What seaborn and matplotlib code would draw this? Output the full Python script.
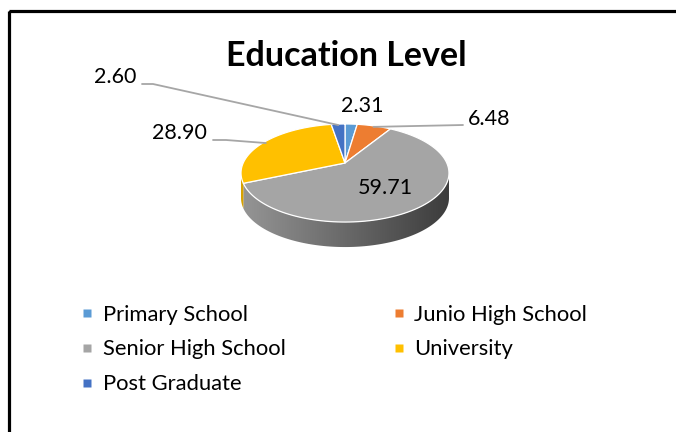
import numpy as np
import matplotlib
matplotlib.use("Agg")
import matplotlib.pyplot as plt
import seaborn as sns
from matplotlib.patches import Polygon, Rectangle
from matplotlib.lines import Line2D
from matplotlib.transforms import Transform

# Education level shares (%)
categories = ["Primary School", "Junio High School", "Senior High School",
              "University", "Post Graduate"]
values = [2.31, 6.48, 59.71, 28.90, 2.60]
value_labels = ["2.31", "6.48", "59.71", "28.90", "2.60"]
colors = ["#5B9BD5", "#ED7D31", "#A5A5A5", "#FFC000", "#4472C4"]
side_colors = [("#4a80b4", "#2f5a85"), ("#c8662a", "#8f4718"),
               ("#969696", "#3c3c3c"), ("#d9a300", "#b08400"),
               ("#3a62a8", "#26427a")]
title = "Education Level"

sns.set_theme(style="white")
plt.rcParams["font.family"] = ["Lato", "DejaVu Sans"]
plt.rcParams["text.color"] = "black"

W, H = 676, 432
fig = plt.figure(figsize=(W / 100, H / 100), dpi=100)
ax = fig.add_axes([0, 0, 1, 1])
ax.set_xlim(0, W)
ax.set_ylim(H, 0)
ax.axis("off")

# chart frame
ax.add_patch(Rectangle((9, 11), W, H, fill=False, edgecolor="black", lw=2.3))


class TiltedDisc(Transform):
    """Perspective view of the unit disc (u right, v away from viewer)."""
    input_dims = output_dims = 2

    def __init__(self, cx, cy, a, b, k):
        super().__init__()
        self.cx, self.cy, self.a, self.b, self.k = cx, cy, a, b, k

    def transform_non_affine(self, pts):
        pts = np.asarray(pts, dtype=float)
        u, v = pts[:, 0], pts[:, 1]
        d = 1 + self.k * v
        return np.column_stack([self.cx + self.a * u / d,
                                self.cy - self.b * v / d])


disc = TiltedDisc(cx=345, cy=163, a=101.8, b=47.0, k=0.204)
rim_px = 25

# angles: start at 12 o'clock, run clockwise
fracs = np.array(values) / np.sum(values)
ends = 90 - 360 * np.cumsum(fracs)
starts = np.concatenate([[90], ends[:-1]])

# silhouette of the tilted disc: rim visible between these angles
sil = np.degrees(np.arcsin(-disc.k))
vis_lo, vis_hi = 180 - sil, 360 + sil


def arc(s, e, n=120):
    th = np.radians(np.linspace(s, e, n))
    return np.column_stack([np.cos(th), np.sin(th)])


# rim
for i, (a_hi, a_lo) in enumerate(zip(starts, ends)):
    lo, hi = a_lo % 360, a_hi % 360
    if hi <= lo:
        hi += 360
    for base in (0, 360):
        s = max(lo, vis_lo + base)
        e = min(hi, vis_hi + base)
        if e <= s:
            continue
        top = disc.transform(arc(s, e))
        bot = top + np.array([0, rim_px])
        poly = Polygon(np.vstack([top, bot[::-1]]), closed=True,
                       facecolor="none", edgecolor="none")
        ax.add_patch(poly)
        c1, c2 = (np.array(matplotlib.colors.to_rgb(c)) for c in side_colors[i])
        t = np.linspace(0, 1, 256)[None, :, None]
        grad = c1[None, None, :] * (1 - t) + c2[None, None, :] * t
        x0 = disc.cx - disc.a * 1.03
        x1 = disc.cx + disc.a * 1.03
        im = ax.imshow(grad, extent=(x0, x1, 260, 150), aspect="auto",
                       zorder=1, interpolation="bilinear")
        im.set_clip_path(poly)

# top face
apex = disc.transform(np.array([[0.0, 0.0]]))
for i, (a_hi, a_lo) in enumerate(zip(starts, ends)):
    rim_pts = disc.transform(arc(a_lo, a_hi))
    ax.add_patch(Polygon(np.vstack([apex, rim_pts]), closed=True,
                         facecolor=colors[i], edgecolor="white", lw=0.9,
                         joinstyle="round", zorder=2))


def rim_point(k, r=0.97):
    a = np.radians((starts[k] + ends[k]) / 2)
    return disc.transform(np.array([[r * np.cos(a), r * np.sin(a)]]))[0]


lead = dict(color="#a6a6a6", lw=1.3, zorder=3)
fs = 15.5

# data labels
ax.text(362, 106, value_labels[0], fontsize=fs, ha="center", va="center", zorder=4)
ax.text(385, 188, value_labels[2], fontsize=fs, ha="center", va="center", zorder=4)

px, py = rim_point(1)
ax.plot([463, px], [125, py], **lead)
ax.text(468, 119, value_labels[1], fontsize=fs, ha="left", va="center", zorder=4)

px, py = rim_point(3)
ax.plot([213, 226, px], [140, 140, py], **lead)
ax.text(207, 133, value_labels[3], fontsize=fs, ha="right", va="center", zorder=4)

px, py = rim_point(4)
ax.plot([142, 153, px], [84, 84, py], **lead)
ax.text(136, 77, value_labels[4], fontsize=fs, ha="right", va="center", zorder=4)

ax.text(346, 56, title, fontsize=24.5, fontweight="bold", ha="center",
        va="center", zorder=4)

# legend, filled row by row
order = [0, 2, 4, 1, 3]
handles = [Line2D([], [], marker="s", ls="none", markersize=6,
                  markerfacecolor=colors[k], markeredgecolor="none") for k in order]
ax.legend(handles, [categories[k] for k in order], ncol=2, frameon=False,
          loc="upper left", bbox_to_anchor=(73 / W, 1 - 296 / H),
          fontsize=15.8, handlelength=0.5, handletextpad=0.45,
          columnspacing=4.9, labelspacing=0.67, borderaxespad=0)

fig.savefig("out.png", dpi=100, facecolor="white")
